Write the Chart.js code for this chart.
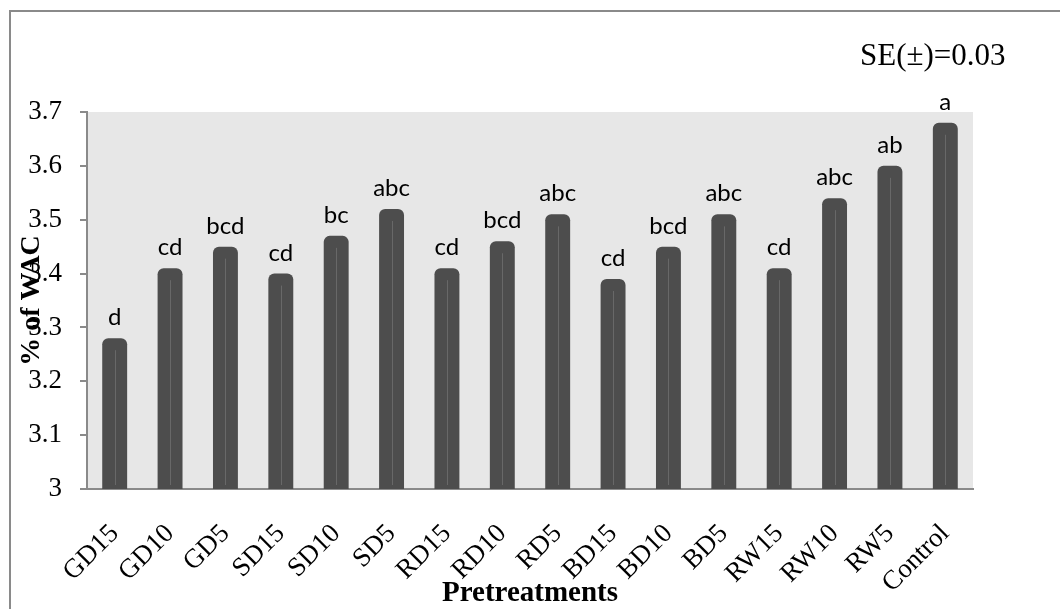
<!DOCTYPE html>
<html>
<head>
<meta charset="utf-8">
<title>% of WAC by pretreatment</title>
<script src="https://cdn.jsdelivr.net/npm/chart.js@4.4.1/dist/chart.umd.min.js"></script>
<style>
  html, body { margin: 0; padding: 0; background: #ffffff; }
  #wrap { position: relative; width: 1060px; height: 609px; }
  canvas { display: block; }
</style>
</head>
<body>
<div id="wrap"><canvas id="c" width="1060" height="609"></canvas></div>
<script>
// Pretreatment groups and mean water absorption capacity
const categories = ['GD15', 'GD10', 'GD5', 'SD15', 'SD10', 'SD5', 'RD15', 'RD10', 'RD5',
                    'BD15', 'BD10', 'BD5', 'RW15', 'RW10', 'RW5', 'Control'];
const wacValues = [3.28, 3.41, 3.45, 3.40, 3.47, 3.52, 3.41, 3.46, 3.51,
                   3.39, 3.45, 3.51, 3.41, 3.54, 3.60, 3.68];
// Significance letters printed above each bar
const groupLetters = ['d', 'cd', 'bcd', 'cd', 'bc', 'abc', 'cd', 'bcd', 'abc',
                      'cd', 'bcd', 'abc', 'cd', 'abc', 'ab', 'a'];
const yTickLabels = ['3', '3.1', '3.2', '3.3', '3.4', '3.5', '3.6', '3.7'];
const seNote = 'SE(\u00b1)=0.03';

const AXIS_GREY = '#8a8a8a';
const SERIF = '"Liberation Serif", "Times New Roman", serif';

// Frame, plot background, bar highlights, letters and SE note
const decorations = {
  id: 'decorations',
  beforeDraw(chart) {
    const { ctx, chartArea: a } = chart;
    ctx.save();
    ctx.fillStyle = '#e7e7e7';
    ctx.fillRect(a.left, a.top, a.right - a.left, a.bottom - a.top);
    ctx.strokeStyle = AXIS_GREY;
    ctx.lineWidth = 2;
    ctx.strokeRect(10, 11, 1200, 800);
    ctx.restore();
  },
  afterDatasetsDraw(chart) {
    const { ctx, chartArea: a } = chart;
    const meta = chart.getDatasetMeta(0);
    ctx.save();
    meta.data.forEach((bar, i) => {
      // thin lighter stripe down the middle of each bar
      ctx.strokeStyle = '#686868';
      ctx.lineWidth = 1;
      ctx.beginPath();
      const x = Math.round(bar.x) + 0.5;
      ctx.moveTo(x, bar.y + 12);
      ctx.lineTo(x, a.bottom - 4);
      ctx.stroke();
      // letter above
      ctx.fillStyle = '#000000';
      ctx.font = '24px Lato, "Open Sans", sans-serif';
      ctx.textAlign = 'center';
      ctx.textBaseline = 'alphabetic';
      ctx.fillText(groupLetters[i], bar.x, bar.y - 13);
    });
    ctx.font = '31px ' + SERIF;
    ctx.textAlign = 'left';
    ctx.fillStyle = '#000000';
    ctx.fillText(seNote, 860, 65);
    ctx.restore();
  }
};

new Chart(document.getElementById('c'), {
  type: 'bar',
  data: {
    labels: categories,
    datasets: [{
      label: '% of WAC',
      data: wacValues,
      backgroundColor: '#4d4d4d',
      borderWidth: 0,
      borderRadius: { topLeft: 6, topRight: 6, bottomLeft: 0, bottomRight: 0 },
      borderSkipped: false,
      categoryPercentage: 1.0,
      barPercentage: 0.45
    }]
  },
  options: {
    responsive: false,
    animation: false,
    events: [],
    layout: { padding: { top: 112, right: 87, bottom: 0, left: 0 } },
    plugins: {
      legend: { display: false },
      tooltip: { enabled: false },
      title: { display: false }
    },
    scales: {
      x: {
        afterFit(scale) { scale.height = 120; },
        grid: { display: false },
        border: { display: true, color: AXIS_GREY, width: 2 },
        ticks: {
          color: '#000000',
          font: { family: SERIF, size: 27 },
          minRotation: 45,
          maxRotation: 45,
          autoSkip: false,
          padding: 21,
          labelOffset: 0
        },
        title: {
          display: true,
          text: 'Pretreatments',
          color: '#000000',
          font: { family: SERIF, size: 29, weight: 'bold', lineHeight: 1.0 },
          padding: { top: 0, bottom: 1 }
        }
      },
      y: {
        min: 3,
        max: 3.7,
        afterFit(scale) { scale.width = 87; },
        grid: {
          display: true,
          drawOnChartArea: false,
          drawTicks: true,
          tickLength: 7,
          color: AXIS_GREY,
          lineWidth: 2
        },
        border: { display: true, color: AXIS_GREY, width: 2 },
        ticks: {
          stepSize: 0.1,
          color: '#000000',
          font: { family: SERIF, size: 27 },
          padding: 18,
          callback: (v, i) => yTickLabels[i]
        },
        title: {
          display: true,
          text: '% of WAC',
          color: '#000000',
          font: { family: SERIF, size: 28, weight: 'bold', lineHeight: 1.2 },
          padding: { top: 15, bottom: 0 }
        }
      }
    }
  },
  plugins: [decorations]
});
</script>
</body>
</html>
